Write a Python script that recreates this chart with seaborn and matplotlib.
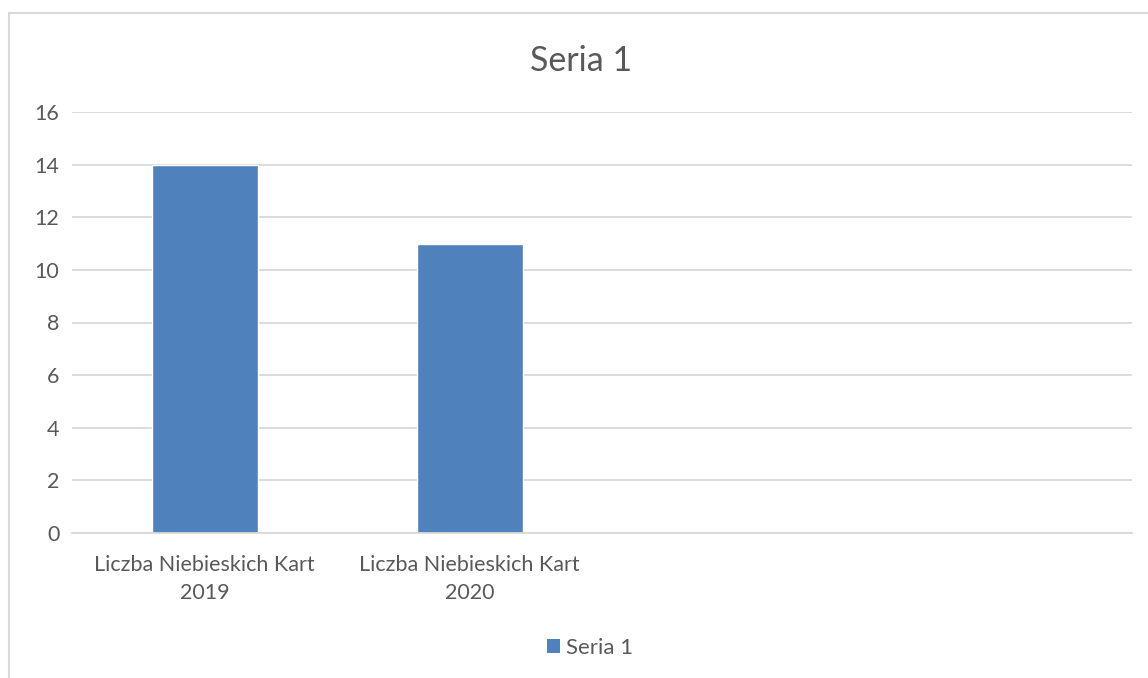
import numpy as np
import pandas as pd
import seaborn as sns
import matplotlib.pyplot as plt
from matplotlib.lines import Line2D
from matplotlib.patches import Patch

# data
categories = ['Liczba Niebieskich Kart\n2019', 'Liczba Niebieskich Kart\n2020', ' ', '  ']
values = [14, 11, np.nan, np.nan]
series_name = 'Seria 1'

df = pd.DataFrame({'cat': categories, 'val': values})

sns.set_style("white")
plt.rcParams['font.family'] = ['Lato', 'DejaVu Sans']

fig = plt.figure(figsize=(11.48, 6.78), dpi=100)
ax = fig.add_axes([72 / 1148, 1 - 533 / 678, (1132 - 72) / 1148, (533 - 112) / 678])

bar_color = '#4F81BD'
sns.barplot(data=df, x='cat', y='val', order=categories, color=bar_color,
            width=0.4, saturation=1, ax=ax)

ax.set_ylim(0, 16)
ax.set_xlim(-0.5, len(categories) - 0.5)
ax.set_yticks(range(0, 17, 2))
ax.yaxis.grid(True, color='#D9D9D9', linewidth=1.3)
ax.set_axisbelow(True)
for s in ['top', 'right', 'left']:
    ax.spines[s].set_visible(False)
ax.spines['bottom'].set_color('#D9D9D9')
ax.spines['bottom'].set_linewidth(1.3)
ax.tick_params(axis='both', length=0, labelsize=15.5, labelcolor='#595959')
ax.tick_params(axis='y', pad=9)
ax.tick_params(axis='x', pad=16)
for lbl in ax.get_xticklabels():
    lbl.set_linespacing(1.5)
ax.set_xlabel('')
ax.set_ylabel('')

fig.text(0.5 + 7 / 1148, 1 - 61 / 678, series_name, ha='center', va='center',
         fontsize=24.5, color='#595959')

fig.legend(handles=[Patch(facecolor=bar_color, edgecolor='none', label=series_name)],
           loc='center', bbox_to_anchor=(590 / 1148, 1 - 648 / 678), frameon=False,
           fontsize=16, labelcolor='#595959', handlelength=0.6, handleheight=0.6,
           handletextpad=0.25)

# chart border
fig.add_artist(Line2D([9 / 1148, 1], [1 - 13 / 678, 1 - 13 / 678], transform=fig.transFigure,
                      color='#D9D9D9', linewidth=1.5))
fig.add_artist(Line2D([9 / 1148, 9 / 1148], [0, 1 - 13 / 678], transform=fig.transFigure,
                      color='#D9D9D9', linewidth=1.5))

fig.savefig('out.png', dpi=100)
